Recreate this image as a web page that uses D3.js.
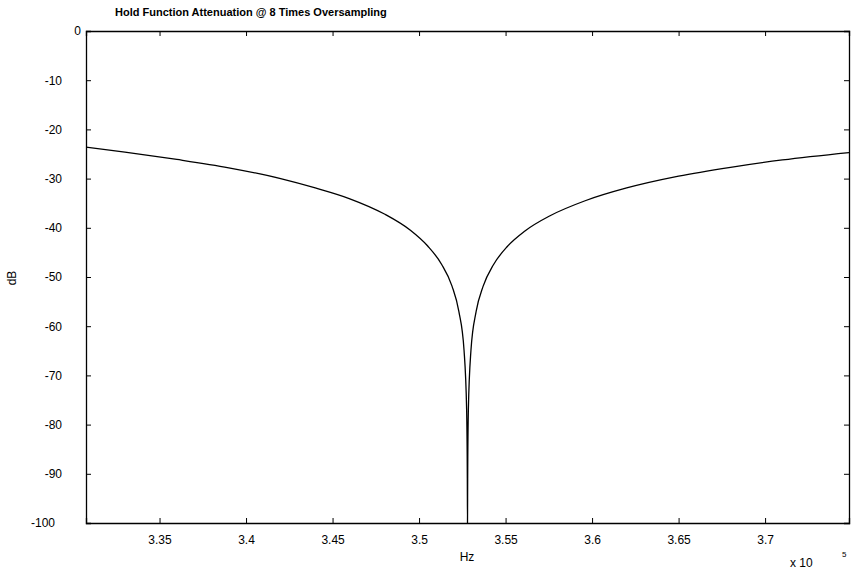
<!DOCTYPE html>
<meta charset="utf-8">
<style>
  body { margin: 0; background: #fff; }
  text { font-family: "Liberation Sans", Arial, sans-serif; fill: #000; }
  .tick text { font-size: 12px; }
  .line { fill: none; stroke: #000; stroke-width: 1.3px; }
</style>
<svg width="856" height="575"></svg>
<script src="https://cdnjs.cloudflare.com/ajax/libs/d3/7.8.5/d3.min.js"></script>
<script>

  // values (Hz, dB)
  var freqs = [330750, 333000, 336000, 339000, 342000, 344000, 346000, 348000, 349500,
               350500, 351300, 351900, 352300, 352600, 352750, 352790, 352800, 352810,
               352850, 353000, 353300, 353700, 354300, 355100, 356100, 357600, 359600,
               362000, 365000, 368000, 371000, 374850];
  var attn = [-23.6, -24.6, -26.1, -27.8, -30.0, -31.9, -34.1, -37.2, -40.5,
              -43.7, -47.4, -51.8, -57.0, -64.9, -77.0, -91.0, -100, -91.0,
              -77.0, -64.9, -57.0, -51.9, -47.5, -43.8, -40.7, -37.5, -34.5,
              -31.9, -29.5, -27.7, -26.2, -24.7];
  var xTicks = [3.35, 3.4, 3.45, 3.5, 3.55, 3.6, 3.65, 3.7];
  var yTicks = [0, -10, -20, -30, -40, -50, -60, -70, -80, -90, -100];

  var svg = d3.select("svg"),
      margin = {top: 31, right: 7, bottom: 52, left: 86},
      width = 856 - margin.left - margin.right,
      height = 575 - margin.top - margin.bottom;

  var g = svg.append("g").attr("transform", "translate(" + margin.left + "," + margin.top + ")");

  var x = d3.scaleLinear().domain([3.3075, 3.7485]).range([0, width]);
  var y = d3.scaleLinear().domain([-100, 0]).range([height, 0]);

  var data = freqs.map(function(f, i) { return {f: f / 1e5, v: attn[i]}; });

  // plain hyphen minus like the original
  var fmt = function(d) { return String(d); };

  // axes with inward ticks, mirrored on top/right
  var xb = g.append("g").attr("transform", "translate(0," + height + ")")
      .call(d3.axisBottom(x).tickValues(xTicks).tickSize(-5).tickPadding(12).tickFormat(fmt));
  var xt = g.append("g")
      .call(d3.axisTop(x).tickValues(xTicks).tickSize(-5).tickFormat(""));
  var yl = g.append("g")
      .call(d3.axisLeft(y).tickValues(yTicks).tickSize(-5).tickPadding(24).tickFormat(fmt));
  var yr = g.append("g").attr("transform", "translate(" + width + ",0)")
      .call(d3.axisRight(y).tickValues(yTicks).tickSize(-5).tickFormat(""));

  [xb, xt, yl, yr].forEach(function(a) {
    a.select(".domain").attr("stroke", "#000").attr("stroke-width", 1.3);
    a.selectAll(".tick line").attr("stroke", "#000");
    a.selectAll("text").attr("fill", "#000").style("font-family", "Liberation Sans, Arial, sans-serif");
  });
  // odd label placement of the original
  yl.selectAll(".tick text").attr("dx", function(d) { return d === 0 ? 19 : (d === -100 ? -7 : 0); });

  g.append("defs").append("clipPath").attr("id", "clip")
    .append("rect").attr("width", width).attr("height", height);

  var line = d3.line()
      .x(function(d) { return x(d.f); })
      .y(function(d) { return y(d.v); })
      .curve(d3.curveMonotoneX);

  g.append("path").datum(data).attr("class", "line")
    .attr("clip-path", "url(#clip)").attr("d", line);

  svg.append("text").attr("x", 115).attr("y", 16)
    .style("font-size", "11px").style("font-weight", "bold")
    .text("Hold Function Attenuation @ 8 Times Oversampling");

  svg.append("text").attr("x", 467).attr("y", 561).attr("text-anchor", "middle")
    .style("font-size", "12px").text("Hz");

  svg.append("text").attr("transform", "translate(16,278) rotate(-90)").attr("text-anchor", "middle")
    .style("font-size", "12px").text("dB");

  svg.append("text").attr("x", 790).attr("y", 567).style("font-size", "12px").text("x 10");
  svg.append("text").attr("x", 842).attr("y", 557).style("font-size", "8px").text("5");

</script>
